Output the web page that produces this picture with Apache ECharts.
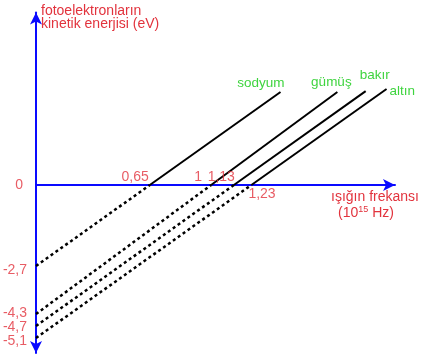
<!DOCTYPE html>
<html>
<head>
<meta charset="utf-8">
<script src="https://cdn.jsdelivr.net/npm/echarts@6/dist/echarts.min.js"></script>
<style>
html,body{margin:0;padding:0;background:#fff;}
#chart{width:442px;height:355px;}
</style>
</head>
<body>
<div id="chart"></div>
<script>
// Metals and their photoelectric data
const metals = ['sodyum', 'gümüş', 'bakır', 'altın'];
const thresholdFreq = [0.65, 1, 1.13, 1.23];        // 10^15 Hz (x-axis crossing)
const intercepts = [-2.7, -4.3, -4.7, -5.1];         // eV (y-axis crossing, dotted extension)
const topEnergy = [3.1, 3.1, 3.13, 3.2];             // eV at the upper end of each solid line
const freqLabels = ['0,65', '1', '1,13', '1,23'];
const energyLabels = ['0', '-2,7', '-4,3', '-4,7', '-5,1'];
const energyTicks = [0, -2.7, -4.3, -4.7, -5.1];

const RED = '#e2333d';
const GREEN = '#3fd43f';
const BLUE = '#0a0aff';
const FONT = 'Liberation Sans, Arial, sans-serif';

const chart = echarts.init(document.getElementById('chart'));
const series = [];

const nameLabelCfg = [
  { position: 'left', offset: [4, -9], distance: 0 },
  { position: 'top', offset: [-6, 1], distance: 4 },
  { position: 'right', offset: [-6, -16], distance: 0 },
  { position: 'right', offset: [0, 2], distance: 3 }
];

metals.forEach((m, i) => {
  const f0 = thresholdFreq[i];
  const b = intercepts[i];
  const slope = -b / f0;
  const fEnd = f0 + topEnergy[i] / slope;
  // dotted extension down to the energy axis
  series.push({
    type: 'line', data: [[0, b], [f0, 0]], symbol: 'none', silent: true,
    lineStyle: { color: '#000', width: 2.5, type: [3, 3] }, z: 3
  });
  // solid part
  const c = nameLabelCfg[i];
  series.push({
    type: 'line', symbol: 'none', silent: true,
    lineStyle: { color: '#000', width: 2 }, z: 3,
    data: [[f0, 0], {
      value: [fEnd, topEnergy[i]],
      symbol: 'circle', symbolSize: 0,
      label: {
        show: true, formatter: m, color: GREEN, fontSize: 13.5, fontFamily: FONT,
        position: c.position, offset: c.offset, distance: c.distance
      }
    }]
  });
});

// frequency labels at crossing points
const freqLabelCfg = [
  { position: 'left', offset: [0, -8], distance: 1 },
  { position: 'left', offset: [0, -8], distance: 9 },
  { position: 'left', offset: [0, -8], distance: -1 },
  { position: 'right', offset: [-3, 9], distance: 0 }
];
series.push({
  type: 'scatter', symbolSize: 0, silent: true, z: 5,
  data: thresholdFreq.map((f, i) => ({
    value: [f, 0],
    label: {
      show: true, formatter: freqLabels[i], color: RED, fontSize: 14, fontFamily: FONT,
      position: freqLabelCfg[i].position, offset: freqLabelCfg[i].offset, distance: freqLabelCfg[i].distance
    }
  }))
});

// energy labels on the y-axis
const energyOffsets = [0, 4, -1, 1, 3];
series.push({
  type: 'scatter', symbolSize: 0, silent: true, z: 5,
  data: energyTicks.map((v, i) => ({
    value: [0, v],
    label: {
      show: true, formatter: energyLabels[i], color: RED, fontSize: 14, fontFamily: FONT,
      position: 'left', distance: i === 0 ? 13 : 9, offset: [0, energyOffsets[i]]
    }
  }))
});

chart.setOption({
  animation: false,
  backgroundColor: '#fff',
  grid: { left: 36, right: 47, top: 12.5, bottom: 2, containLabel: false },
  xAxis: {
    type: 'value', min: 0, max: 2.05,
    axisLine: { show: true, onZero: true, lineStyle: { color: BLUE, width: 2 }, symbol: ['none', 'arrow'], symbolSize: [9, 12] },
    axisTick: { show: false }, axisLabel: { show: false }, splitLine: { show: false }
  },
  yAxis: {
    type: 'value', min: -5.6, max: 5.75,
    axisLine: { show: true, onZero: true, lineStyle: { color: BLUE, width: 2 }, symbol: ['arrow', 'arrow'], symbolSize: [9, 12] },
    axisTick: { show: false }, axisLabel: { show: false }, splitLine: { show: false }
  },
  graphic: [
    {
      type: 'text', left: 41, top: 4,
      style: { text: 'fotoelektronların\nkinetik enerjisi (eV)', fill: RED, font: '14px ' + FONT, lineHeight: 13 }
    },
    {
      type: 'text', left: 331, top: 190,
      style: { text: 'ışığın frekansı', fill: RED, font: '14px ' + FONT }
    },
    {
      type: 'text', left: 338, top: 205,
      style: {
        text: '{a|(10}{s|15}{a| Hz)}',
        rich: {
          a: { fill: RED, fontSize: 14, fontFamily: FONT, verticalAlign: 'bottom' },
          s: { fill: RED, fontSize: 9, fontFamily: FONT, verticalAlign: 'top', padding: [0, 0, 6, 0] }
        }
      }
    }
  ],
  series: series
});
</script>
</body>
</html>
